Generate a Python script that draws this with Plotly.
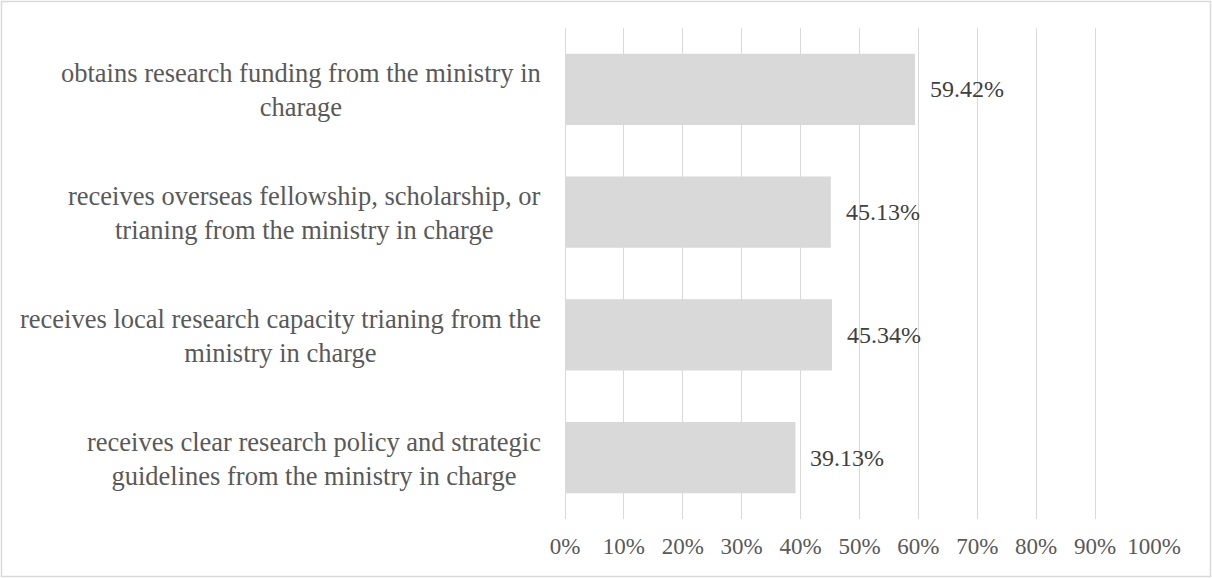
import plotly.graph_objects as go

# Survey items (top to bottom) and share of respondents (%)
categories = [
    "obtains research funding from the ministry in<br>charage",
    "receives overseas fellowship, scholarship, or<br>trianing from the ministry in charge",
    "receives local research capacity trianing from the<br>ministry in charge",
    "receives clear research policy and strategic<br>guidelines from the ministry in charge",
]
values = [59.42, 45.13, 45.34, 39.13]
tick_values = [0, 10, 20, 30, 40, 50, 60, 70, 80, 90, 100]
tick_labels = [f"{v}%" for v in tick_values]

W, H = 1212, 578
L, R, T, B = 565, 58, 28, 59
plot_w = W - L - R
plot_h = H - T - B

FONT = "Liberation Serif"
GRID = "#d9d9d9"

fig = go.Figure(
    go.Bar(
        x=values,
        y=categories,
        orientation="h",
        marker=dict(color="#d9d9d9", line=dict(width=0)),
        width=0.58,
        hoverinfo="skip",
    )
)

annotations = []
# Category labels: block right-aligned to the axis, lines centered within
for cat in categories:
    annotations.append(dict(
        x=(543 - L) / plot_w, xref="paper", xanchor="right",
        y=cat, yref="y", yanchor="middle", yshift=-1,
        text=cat, align="center", showarrow=False,
        font=dict(family=FONT, size=26.5, color="#595959"),
    ))
# Value labels just past the bar ends
for cat, v in zip(categories, values):
    annotations.append(dict(
        x=v, xref="x", xanchor="left", xshift=13,
        y=cat, yref="y", yanchor="middle",
        text=f"{v:.2f}%", showarrow=False,
        font=dict(family=FONT, size=24, color="#404040"),
    ))

# Light outer frame around the chart
fig.add_shape(
    type="rect", xref="paper", yref="paper",
    x0=(1.5 - L) / plot_w, x1=(W - 1.5 - L) / plot_w,
    y0=-(B - 1.5) / plot_h, y1=1 + (T - 1.5) / plot_h,
    line=dict(color="#d9d9d9", width=1.5), layer="below",
)

fig.update_layout(
    width=W, height=H,
    margin=dict(l=L, r=R, t=T, b=B, pad=0),
    paper_bgcolor="white", plot_bgcolor="white",
    showlegend=False,
    bargap=0.42,
    annotations=annotations,
    font=dict(family=FONT),
    xaxis=dict(
        range=[0, 100],
        tickvals=tick_values, ticktext=tick_labels,
        showgrid=True, gridcolor=GRID, gridwidth=1.3,
        zeroline=True, zerolinecolor=GRID, zerolinewidth=1.3,
        showline=False, ticks="", ticklabelstandoff=11,
        tickfont=dict(family=FONT, size=23, color="#595959"),
        fixedrange=True,
    ),
    yaxis=dict(
        categoryorder="array", categoryarray=categories,
        autorange="reversed",
        showticklabels=False, showgrid=False, zeroline=False,
        showline=False, ticks="",
        fixedrange=True,
    ),
)

fig.write_html("out.html")
